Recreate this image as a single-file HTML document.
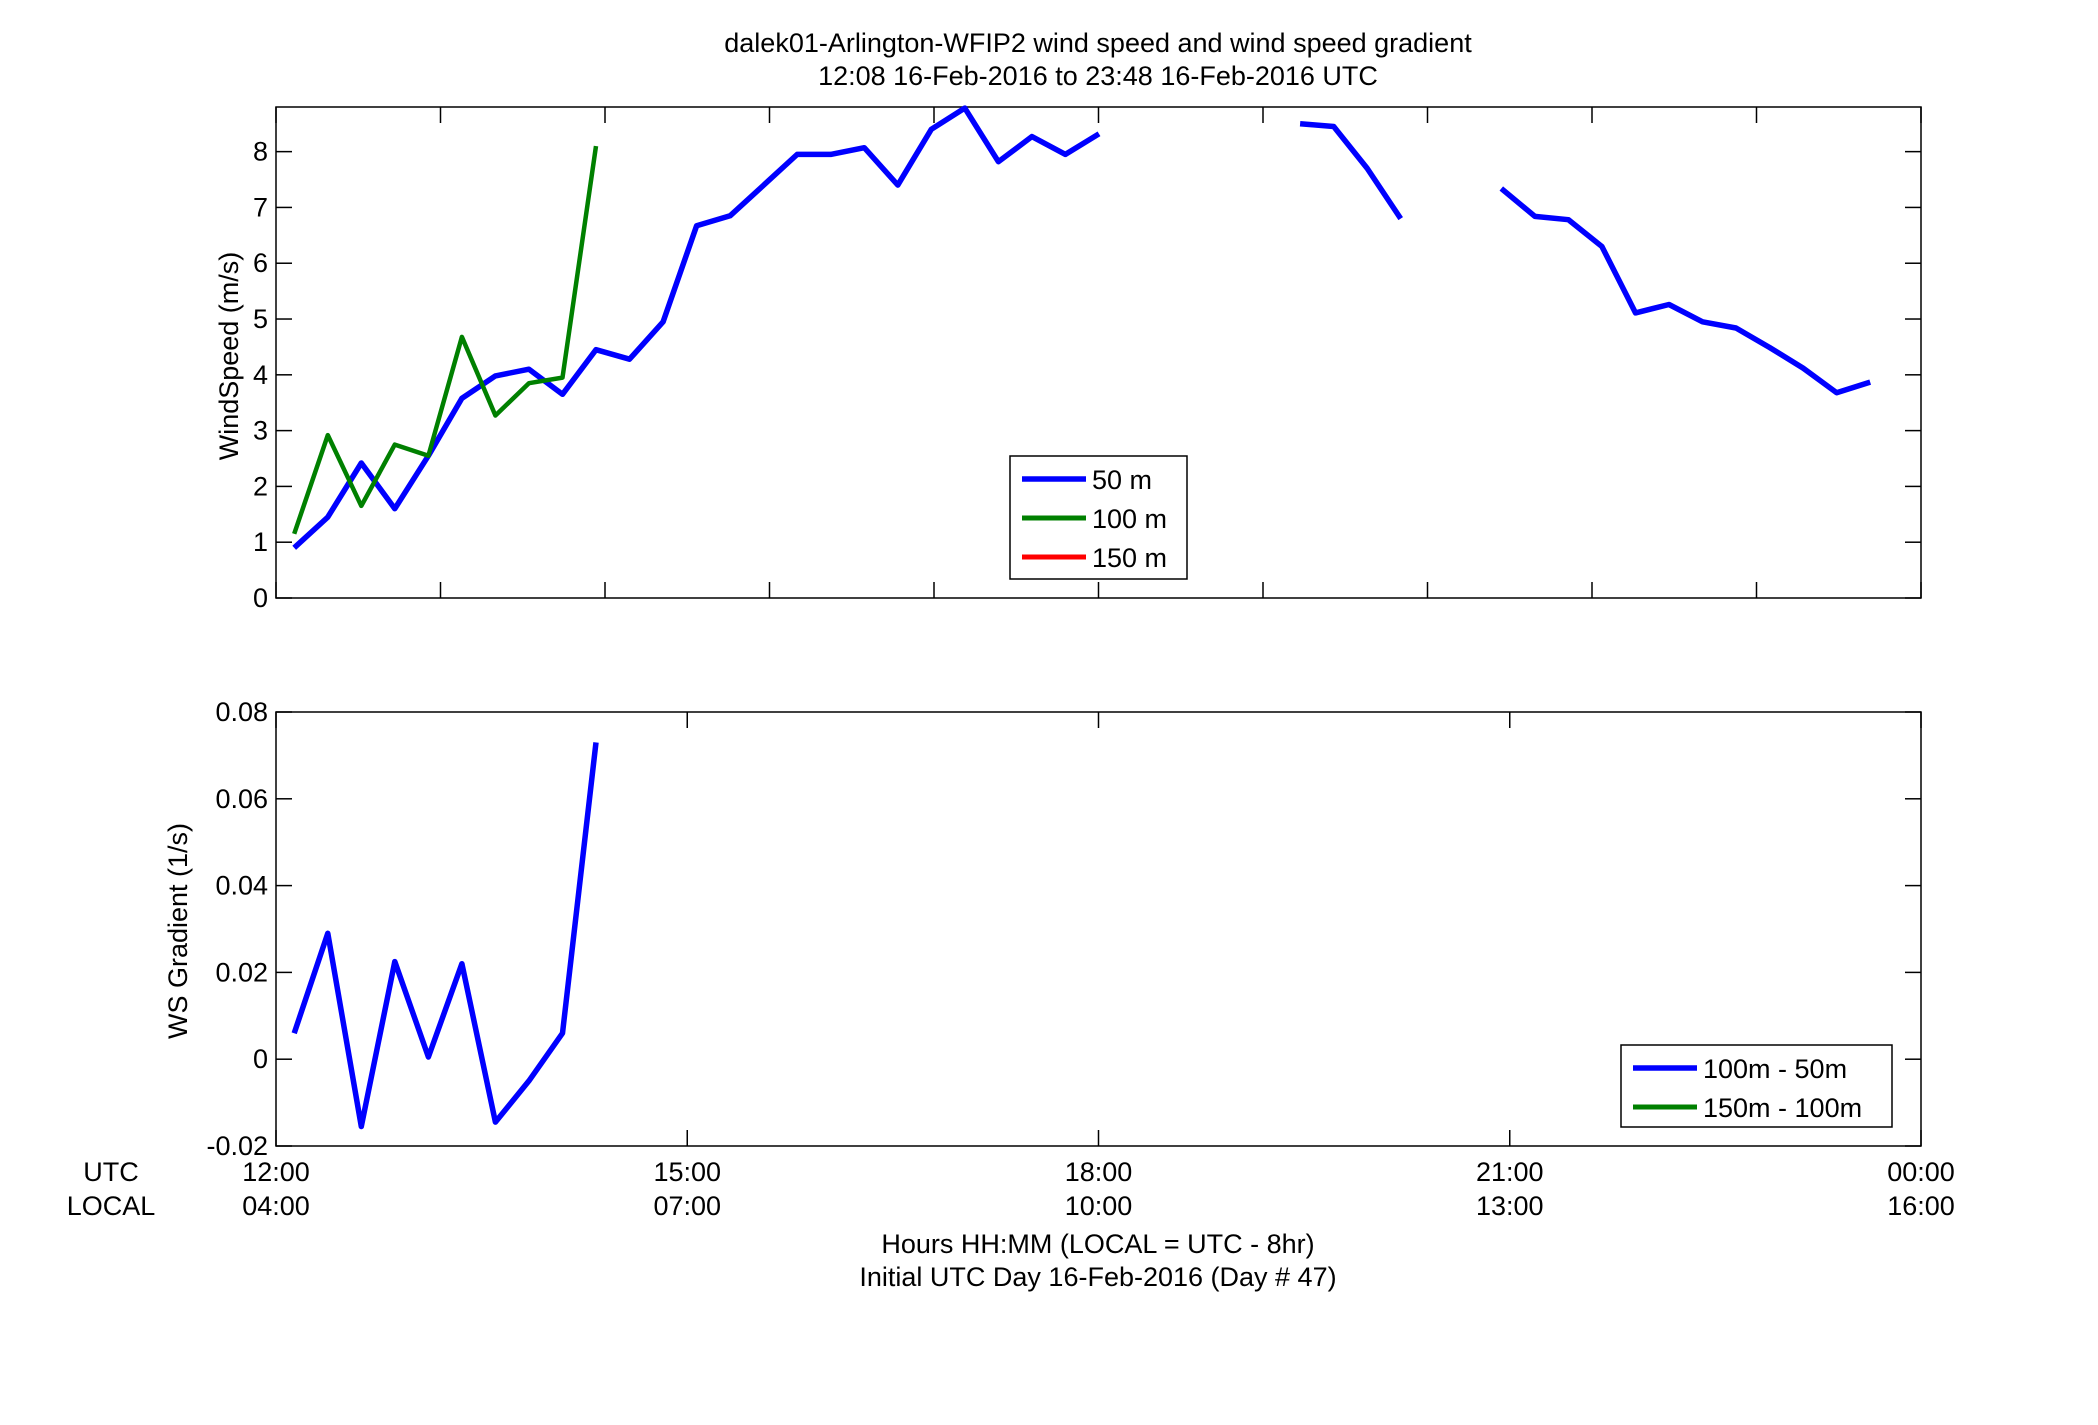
<!DOCTYPE html>
<html><head><meta charset="utf-8"><style>
html,body{margin:0;padding:0;background:#fff;}
svg{display:block;font-family:"Liberation Sans",Arial,sans-serif;}
</style></head><body>
<svg id="chart" width="2098" height="1425" viewBox="0 0 2098 1425" xmlns="http://www.w3.org/2000/svg">
<rect width="2098" height="1425" fill="#fff"/>
<text x="1098" y="52" font-size="27" text-anchor="middle">dalek01-Arlington-WFIP2  wind speed and wind speed gradient</text>
<text x="1098" y="85" font-size="27" text-anchor="middle">12:08 16-Feb-2016 to 23:48 16-Feb-2016  UTC</text>
<g id="top"></g>
<g id="bot"></g>
<text x="111" y="1181" font-size="27" text-anchor="middle">UTC</text>
<text x="111" y="1215" font-size="27" text-anchor="middle">LOCAL</text>
<text x="1098" y="1253" font-size="27" text-anchor="middle">Hours HH:MM  (LOCAL = UTC - 8hr)</text>
<text x="1098" y="1286" font-size="27" text-anchor="middle">Initial UTC Day 16-Feb-2016 (Day # 47)</text>
<text transform="translate(238,356) rotate(-90)" font-size="27" text-anchor="middle">WindSpeed (m/s)</text>
<text transform="translate(187,931) rotate(-90)" font-size="27" text-anchor="middle">WS Gradient (1/s)</text>
</svg>
<script>
const ws50 = [0.9,1.45,2.42,1.6,2.55,3.58,3.98,4.1,3.65,4.45,4.28,4.95,6.67,6.85,7.4,7.95,7.95,8.07,7.4,8.4,8.78,7.82,8.27,7.95,8.32,null,null,null,null,null,8.5,8.45,7.7,6.8,null,null,7.34,6.84,6.78,6.3,5.11,5.26,4.95,4.84,4.49,4.12,3.68,3.87];
const ws100 = [1.15,2.92,1.65,2.75,2.55,4.68,3.27,3.85,3.95,8.1];
const grad1 = [0.006,0.029,-0.0155,0.0225,0.0005,0.022,-0.0145,-0.005,0.006,0.073];
const startHour = 12.133;
const stepHour = 0.2446;
const topYTicks = [0,1,2,3,4,5,6,7,8];
const botYTicks = [-0.02,0,0.02,0.04,0.06,0.08];
const botYLabels = ["-0.02","0","0.02","0.04","0.06","0.08"];
const xLabelHours = [12,15,18,21,24];
const utcLabels = ["12:00","15:00","18:00","21:00","00:00"];
const localLabels = ["04:00","07:00","10:00","13:00","16:00"];

const NS="http://www.w3.org/2000/svg";
const L=276,R=1921;
function X(h){return L+(h-12)/12*(R-L);}
function mk(tag,attrs,parent){const e=document.createElementNS(NS,tag);for(const k in attrs)e.setAttribute(k,attrs[k]);parent.appendChild(e);return e;}
function axes(g,top,bot,ymin,ymax,yt,ylab,xticks,name){
  const Y=v=>bot-(v-ymin)/(ymax-ymin)*(bot-top);
  const box=mk('rect',{x:L,y:top,width:R-L,height:bot-top,fill:'none',stroke:'#000','stroke-width':1.5},g);
  
  
  xticks.forEach(h=>{const x=X(h);
    mk('line',{x1:x,x2:x,y1:top,y2:top+16,stroke:'#000','stroke-width':1.5},g);
    mk('line',{x1:x,x2:x,y1:bot,y2:bot-16,stroke:'#000','stroke-width':1.5},g);});
  yt.forEach((v,i)=>{const y=Y(v);
    mk('line',{x1:L,x2:L+16,y1:y,y2:y,stroke:'#000','stroke-width':1.5},g);
    mk('line',{x1:R,x2:R-16,y1:y,y2:y,stroke:'#000','stroke-width':1.5},g);
    const t=mk('text',{x:268,y:y+9,'font-size':27,'text-anchor':'end'},g);
    
    
    t.textContent=ylab[i];});
  return Y;
}
function series(g,vals,Y,color,w,name){
  let d='',pen=false;
  vals.forEach((v,i)=>{if(v===null){pen=false;return;}
    const x=X(startHour+i*stepHour),y=Y(v);d+=(pen?'L':'M')+x.toFixed(1)+' '+y.toFixed(1)+' ';pen=true;});
  const p=mk('path',{d:d,fill:'none',stroke:color,'stroke-width':w,'stroke-linejoin':'round'},g);
  
  
}
function legend(g,x,y,w,h,entries,name){
  const b=mk('rect',{x:x,y:y,width:w,height:h,fill:'#fff',stroke:'#000','stroke-width':1.5},g);
  
  
  entries.forEach((e,i)=>{const ly=y+23+i*39;
    const ln=mk('line',{x1:x+12,x2:x+76,y1:ly,y2:ly,stroke:e[1],'stroke-width':e[2]},g);
    
    
    const t=mk('text',{x:x+82,y:ly+10,'font-size':27},g);
    
    
    t.textContent=e[0];});
}
const gt=document.getElementById('top');
const topTicks=[];for(let k=0;k<=10;k++)topTicks.push(12+k*1.2);
const Yt=axes(gt,107,598,0,8.8,topYTicks,topYTicks.map(String),topTicks,'windspeed');
series(gt,ws50,Yt,'#0000ff',5.5,'series-50m');
series(gt,ws100,Yt,'#008000',4.5,'series-100m');
legend(gt,1010,456,177,123,[['50 m','#0000ff',5.5],['100 m','#008000',5],['150 m','#ff0000',5]],'windspeed-legend');

const gb=document.getElementById('bot');
const Yb=axes(gb,712,1146,-0.02,0.08,botYTicks,botYLabels,xLabelHours,'gradient');
series(gb,grad1,Yb,'#0000ff',5.5,'series-100m-50m');
legend(gb,1621,1045,271,82,[['100m - 50m','#0000ff',5.5],['150m - 100m','#008000',5]],'gradient-legend');
xLabelHours.forEach((h,i)=>{
  const a=mk('text',{x:X(h),y:1181,'font-size':27,'text-anchor':'middle'},gb);
  
  
  a.textContent=utcLabels[i];
  const b=mk('text',{x:X(h),y:1215,'font-size':27,'text-anchor':'middle'},gb);
  
  
  b.textContent=localLabels[i];
});
</script>
</body></html>
